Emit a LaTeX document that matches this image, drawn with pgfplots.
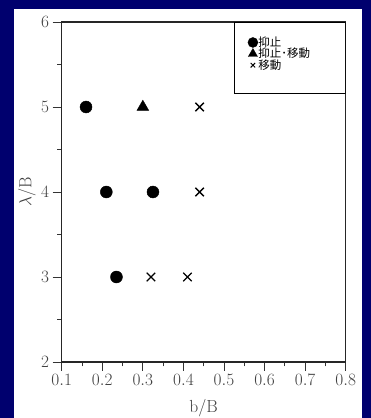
\documentclass[border=0pt]{standalone}
\usepackage{pgfplots}
\pgfplotsset{compat=1.18}
\usepackage{fontspec}
\newfontfamily\cjk{Noto Sans CJK JP}
\definecolor{navybg}{RGB}{0,0,110}
\begin{document}
\begin{tikzpicture}[x=1pt,y=1pt]
\fill[navybg] (0,0) rectangle (371,418);
\fill[white] (14,0) rectangle (362,409);
\useasboundingbox (0,0) rectangle (371,418);
\begin{axis}[
  at={(61.7pt,56pt)}, anchor=south west,
  scale only axis, width=284pt, height=340pt,
  xmin=0.1, xmax=0.8, ymin=2, ymax=6,
  xtick={0.1,0.2,0.3,0.4,0.5,0.6,0.7,0.8},
  ytick={2,3,4,5,6},
  minor x tick num=1, minor y tick num=1,
  tick align=outside, tick pos=left,
  major tick length=9pt, minor tick length=4.5pt,
  axis line style={line width=1.4pt, black!85},
  every tick/.style={black!80, line width=0.9pt},
  tick label style={font=\fontsize{17.5}{20}\selectfont, black!75},
  xticklabel style={/pgf/number format/.cd, fixed, fixed zerofill, precision=1},
  xlabel={b/B}, ylabel={$\lambda$/B},
  label style={font=\fontsize{17.5}{20}\selectfont, black!75},
  xlabel style={at={(axis description cs:0.5,-0.1353)}, anchor=center},
  ylabel style={at={(axis description cs:-0.122,0.5)}, anchor=center},
  legend style={draw=none, fill=none, at={(rel axis cs:0.655,0.958)}, anchor=north west,
    font=\cjk\fontsize{11.5}{12}\selectfont, inner sep=0pt, row sep=-0.6pt,
    nodes={inner sep=0.4pt}},
  legend cell align=left,
  legend image code/.code={\draw[#1] plot coordinates {(0pt,0pt)};},
  /tikz/every even column/.append style={column sep=0.3pt},
]
\draw[black, line width=1.1pt] (rel axis cs:0.607,0.791) rectangle (rel axis cs:1,1);
\addplot[only marks, mark=*, mark size=6pt, black, legend image post style={mark size=5pt}]
  coordinates {(0.16,5) (0.21,4) (0.325,4) (0.235,3)};
\addlegendentry{抑止}
\addplot[only marks, mark=triangle*, mark size=6.8pt, black, legend image post style={mark size=5.3pt}]
  coordinates {(0.30,5)};
\addlegendentry{抑止･移動}
\addplot[only marks, mark=x, mark size=6pt, black, mark options={line width=1.3pt}, legend image post style={mark size=3.2pt, mark options={line width=0.9pt}}]
  coordinates {(0.44,5) (0.44,4) (0.32,3) (0.41,3)};
\addlegendentry{移動}
\end{axis}
\end{tikzpicture}
\end{document}
